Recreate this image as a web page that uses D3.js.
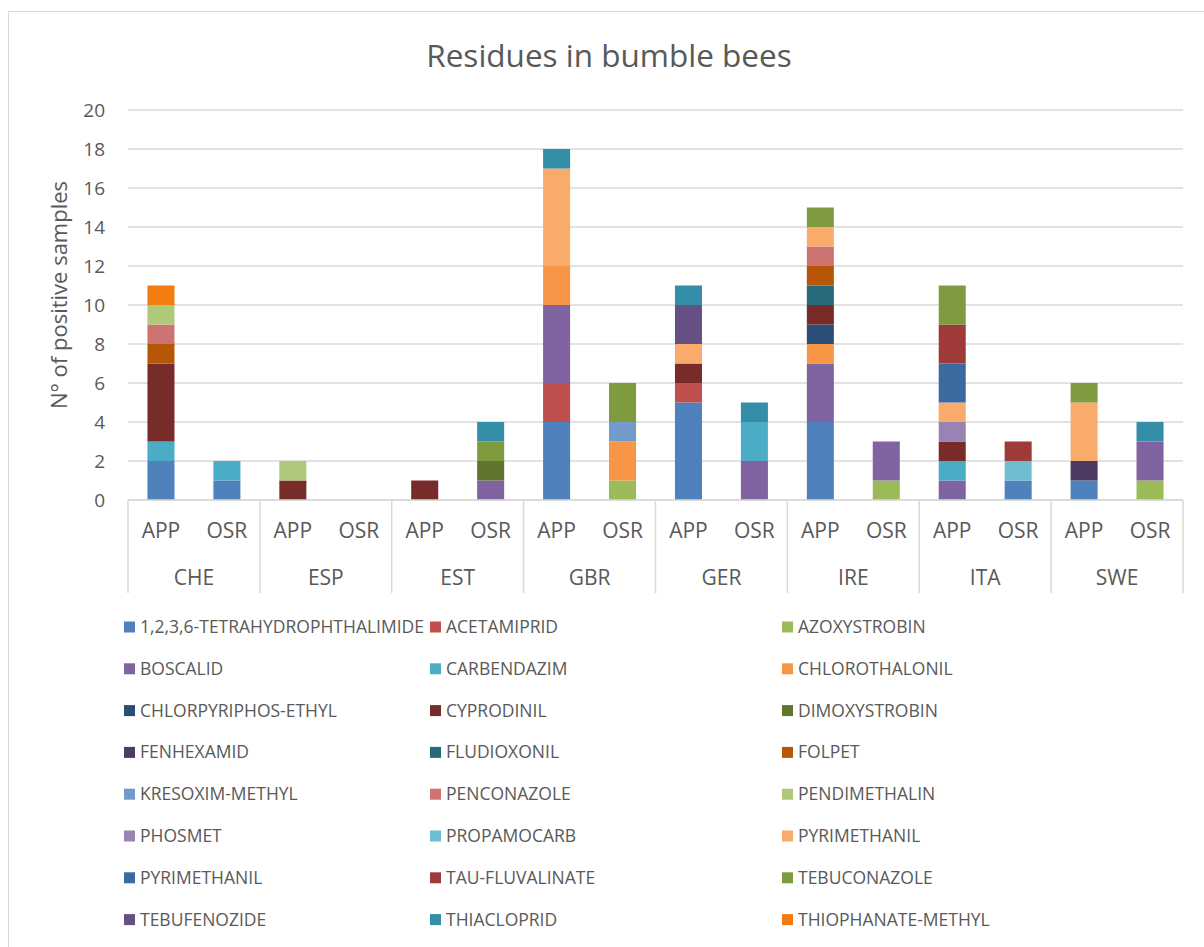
<!DOCTYPE html>
<html>
<head>
<meta charset="utf-8">
<script src="https://cdn.jsdelivr.net/npm/d3@7"></script>
<style>
  body { margin: 0; background: #fff; }
  text { font-family: "Open Sans", sans-serif; fill: #595959; }
</style>
</head>
<body>
<div id="chart"></div>
<script>
// countries and crop types (two-level category axis)
const countries = ["CHE", "ESP", "EST", "GBR", "GER", "IRE", "ITA", "SWE"];
const crops = ["APP", "OSR"];
const yTicks = [0, 2, 4, 6, 8, 10, 12, 14, 16, 18, 20];

// residues, in stacking / legend order
const residues = [
  "1,2,3,6-TETRAHYDROPHTHALIMIDE", "ACETAMIPRID", "AZOXYSTROBIN",
  "BOSCALID", "CARBENDAZIM", "CHLOROTHALONIL",
  "CHLORPYRIPHOS-ETHYL", "CYPRODINIL", "DIMOXYSTROBIN",
  "FENHEXAMID", "FLUDIOXONIL", "FOLPET",
  "KRESOXIM-METHYL", "PENCONAZOLE", "PENDIMETHALIN",
  "PHOSMET", "PROPAMOCARB", "PYRIMETHANIL",
  "PYRIMETHANIL", "TAU-FLUVALINATE", "TEBUCONAZOLE",
  "TEBUFENOZIDE", "THIACLOPRID", "THIOPHANATE-METHYL"
];
const colours = [
  "#4f81bd", "#c0504d", "#9bbb59", "#8064a2", "#4bacc6", "#f79646",
  "#2c4d75", "#772c2a", "#5f7530", "#4d3b62", "#276a7c", "#b65708",
  "#729aca", "#cd7371", "#afc97a", "#9983b5", "#6fbdd1", "#f9ab6b",
  "#3a6a9f", "#9e3b39", "#7f9b40", "#664f84", "#358ea7", "#f47b0e"
];

// N° of positive samples, one row per residue,
// columns: CHE APP, CHE OSR, ESP APP, ESP OSR, ... SWE APP, SWE OSR
const counts = [
  [2,1, 0,0, 0,0, 4,0, 5,0, 4,0, 0,1, 1,0],
  [0,0, 0,0, 0,0, 2,0, 1,0, 0,0, 0,0, 0,0],
  [0,0, 0,0, 0,0, 0,1, 0,0, 0,1, 0,0, 0,1],
  [0,0, 0,0, 0,1, 4,0, 0,2, 3,2, 1,0, 0,2],
  [1,1, 0,0, 0,0, 0,0, 0,2, 0,0, 1,0, 0,0],
  [0,0, 0,0, 0,0, 2,2, 0,0, 1,0, 0,0, 0,0],
  [0,0, 0,0, 0,0, 0,0, 0,0, 1,0, 0,0, 0,0],
  [4,0, 1,0, 1,0, 0,0, 1,0, 1,0, 1,0, 0,0],
  [0,0, 0,0, 0,1, 0,0, 0,0, 0,0, 0,0, 0,0],
  [0,0, 0,0, 0,0, 0,0, 0,0, 0,0, 0,0, 1,0],
  [0,0, 0,0, 0,0, 0,0, 0,0, 1,0, 0,0, 0,0],
  [1,0, 0,0, 0,0, 0,0, 0,0, 1,0, 0,0, 0,0],
  [0,0, 0,0, 0,0, 0,1, 0,0, 0,0, 0,0, 0,0],
  [1,0, 0,0, 0,0, 0,0, 0,0, 1,0, 0,0, 0,0],
  [1,0, 1,0, 0,0, 0,0, 0,0, 0,0, 0,0, 0,0],
  [0,0, 0,0, 0,0, 0,0, 0,0, 0,0, 1,0, 0,0],
  [0,0, 0,0, 0,0, 0,0, 0,0, 0,0, 0,1, 0,0],
  [0,0, 0,0, 0,0, 5,0, 1,0, 1,0, 1,0, 3,0],
  [0,0, 0,0, 0,0, 0,0, 0,0, 0,0, 2,0, 0,0],
  [0,0, 0,0, 0,0, 0,0, 0,0, 0,0, 2,1, 0,0],
  [0,0, 0,0, 0,1, 0,2, 0,0, 1,0, 2,0, 1,0],
  [0,0, 0,0, 0,0, 0,0, 2,0, 0,0, 0,0, 0,0],
  [0,0, 0,0, 0,1, 1,0, 1,1, 0,0, 0,0, 0,1],
  [1,0, 0,0, 0,0, 0,0, 0,0, 0,0, 0,0, 0,0]
];

const width = 1204, height = 947;
const margin = {top: 110, right: 21, bottom: 447, left: 128};
const plotW = width - margin.left - margin.right;
const plotH = height - margin.top - margin.bottom;

const svg = d3.select("#chart")
  .append("svg")
    .attr("width", width)
    .attr("height", height);

// chart area border (only top/left edges fall inside the picture)
svg.append("rect")
  .attr("x", 8.5).attr("y", 11.5)
  .attr("width", 1300).attr("height", 1100)
  .attr("fill", "none")
  .attr("stroke", "#d9d9d9");

svg.append("text")
  .attr("x", 609).attr("y", 67)
  .attr("text-anchor", "middle")
  .style("font-size", "31.5px")
  .text("Residues in bumble bees");

const g = svg.append("g")
  .attr("transform", "translate(" + margin.left + "," + margin.top + ")");

// one row per bar
const rows = [];
countries.forEach(function(c, i) {
  crops.forEach(function(p, j) {
    const row = {country: c, crop: p, key: c + "|" + p};
    residues.forEach(function(r, k) { row[k] = counts[k][i * 2 + j]; });
    rows.push(row);
  });
});

const x0 = d3.scaleBand()
  .domain(countries)
  .range([0, plotW]);
const x1 = d3.scaleBand()
  .domain(crops)
  .range([0, x0.bandwidth()])
  .paddingInner(0.59)
  .paddingOuter(0.295);

const y = d3.scaleLinear()
  .domain([0, 20])
  .range([plotH, 0]);

// gridlines
g.append("g")
  .selectAll("line")
  .data(yTicks)
  .enter()
  .append("line")
    .attr("x1", 0).attr("x2", plotW)
    .attr("y1", function (d) { return y(d); })
    .attr("y2", function (d) { return y(d); })
    .attr("stroke", "#d9d9d9")
    .attr("stroke-width", 1.3);

// y axis labels
const yAxis = g.append("g")
  .call(d3.axisLeft(y).tickValues(yTicks).tickSize(0).tickPadding(23));
yAxis.select(".domain").remove();
yAxis.selectAll("text")
  .style("font-size", "19px")
  .style("font-family", "'Open Sans', sans-serif")
  .attr("fill", "#595959");

svg.append("text")
  .attr("transform", "translate(67," + 295 + ") rotate(-90)")
  .attr("text-anchor", "middle")
  .style("font-size", "22px")
  .text("N° of positive samples");

// stacked bars
const keys = residues.map(function(r, k) { return k; });
const series = d3.stack().keys(keys)(rows);

g.append("g")
  .selectAll("g")
  .data(series)
  .enter()
  .append("g")
    .attr("fill", function (d) { return colours[d.key]; })
  .selectAll("rect")
  .data(function (d) { return d; })
  .enter()
  .append("rect")
    .attr("x", function (d) { return x0(d.data.country) + x1(d.data.crop); })
    .attr("y", function (d) { return y(d[1]); })
    .attr("width", x1.bandwidth())
    .attr("height", function (d) { return y(d[0]) - y(d[1]); });

// two-level category axis
const axisG = g.append("g")
  .attr("transform", "translate(0," + plotH + ")");

axisG.append("line")
  .attr("x1", 0).attr("x2", plotW)
  .attr("y1", 0).attr("y2", 0)
  .attr("stroke", "#d9d9d9").attr("stroke-width", 1.5);

axisG.selectAll(".sep")
  .data(countries.concat(["end"]))
  .enter()
  .append("line")
    .attr("class", "sep")
    .attr("x1", function (d) { return d === "end" ? plotW : x0(d); })
    .attr("x2", function (d) { return d === "end" ? plotW : x0(d); })
    .attr("y1", 0).attr("y2", 93)
    .attr("stroke", "#d9d9d9").attr("stroke-width", 1.5);

axisG.selectAll(".crop")
  .data(rows)
  .enter()
  .append("text")
    .attr("class", "crop")
    .attr("x", function (d) { return x0(d.country) + x1(d.crop) + x1.bandwidth() / 2; })
    .attr("y", 38)
    .attr("text-anchor", "middle")
    .style("font-size", "21px")
    .text(function (d) { return d.crop; });

axisG.selectAll(".country")
  .data(countries)
  .enter()
  .append("text")
    .attr("class", "country")
    .attr("x", function (d) { return x0(d) + x0.bandwidth() / 2; })
    .attr("y", 85)
    .attr("text-anchor", "middle")
    .style("font-size", "21px")
    .text(function (d) { return d; });

// legend: three columns
const legendX = [124, 430, 782];
const legend = svg.append("g")
  .selectAll("g")
  .data(residues)
  .enter()
  .append("g")
    .attr("transform", function (d, i) {
      return "translate(" + legendX[i % 3] + "," + (627 + Math.floor(i / 3) * 41.8) + ")";
    });

legend.append("rect")
  .attr("x", 0).attr("y", -5.5)
  .attr("width", 11).attr("height", 11)
  .attr("fill", function (d, i) { return colours[i]; });

legend.append("text")
  .attr("x", 16).attr("y", 6)
  .style("font-size", "17.5px")
  .text(function (d) { return d; });
</script>
</body>
</html>
